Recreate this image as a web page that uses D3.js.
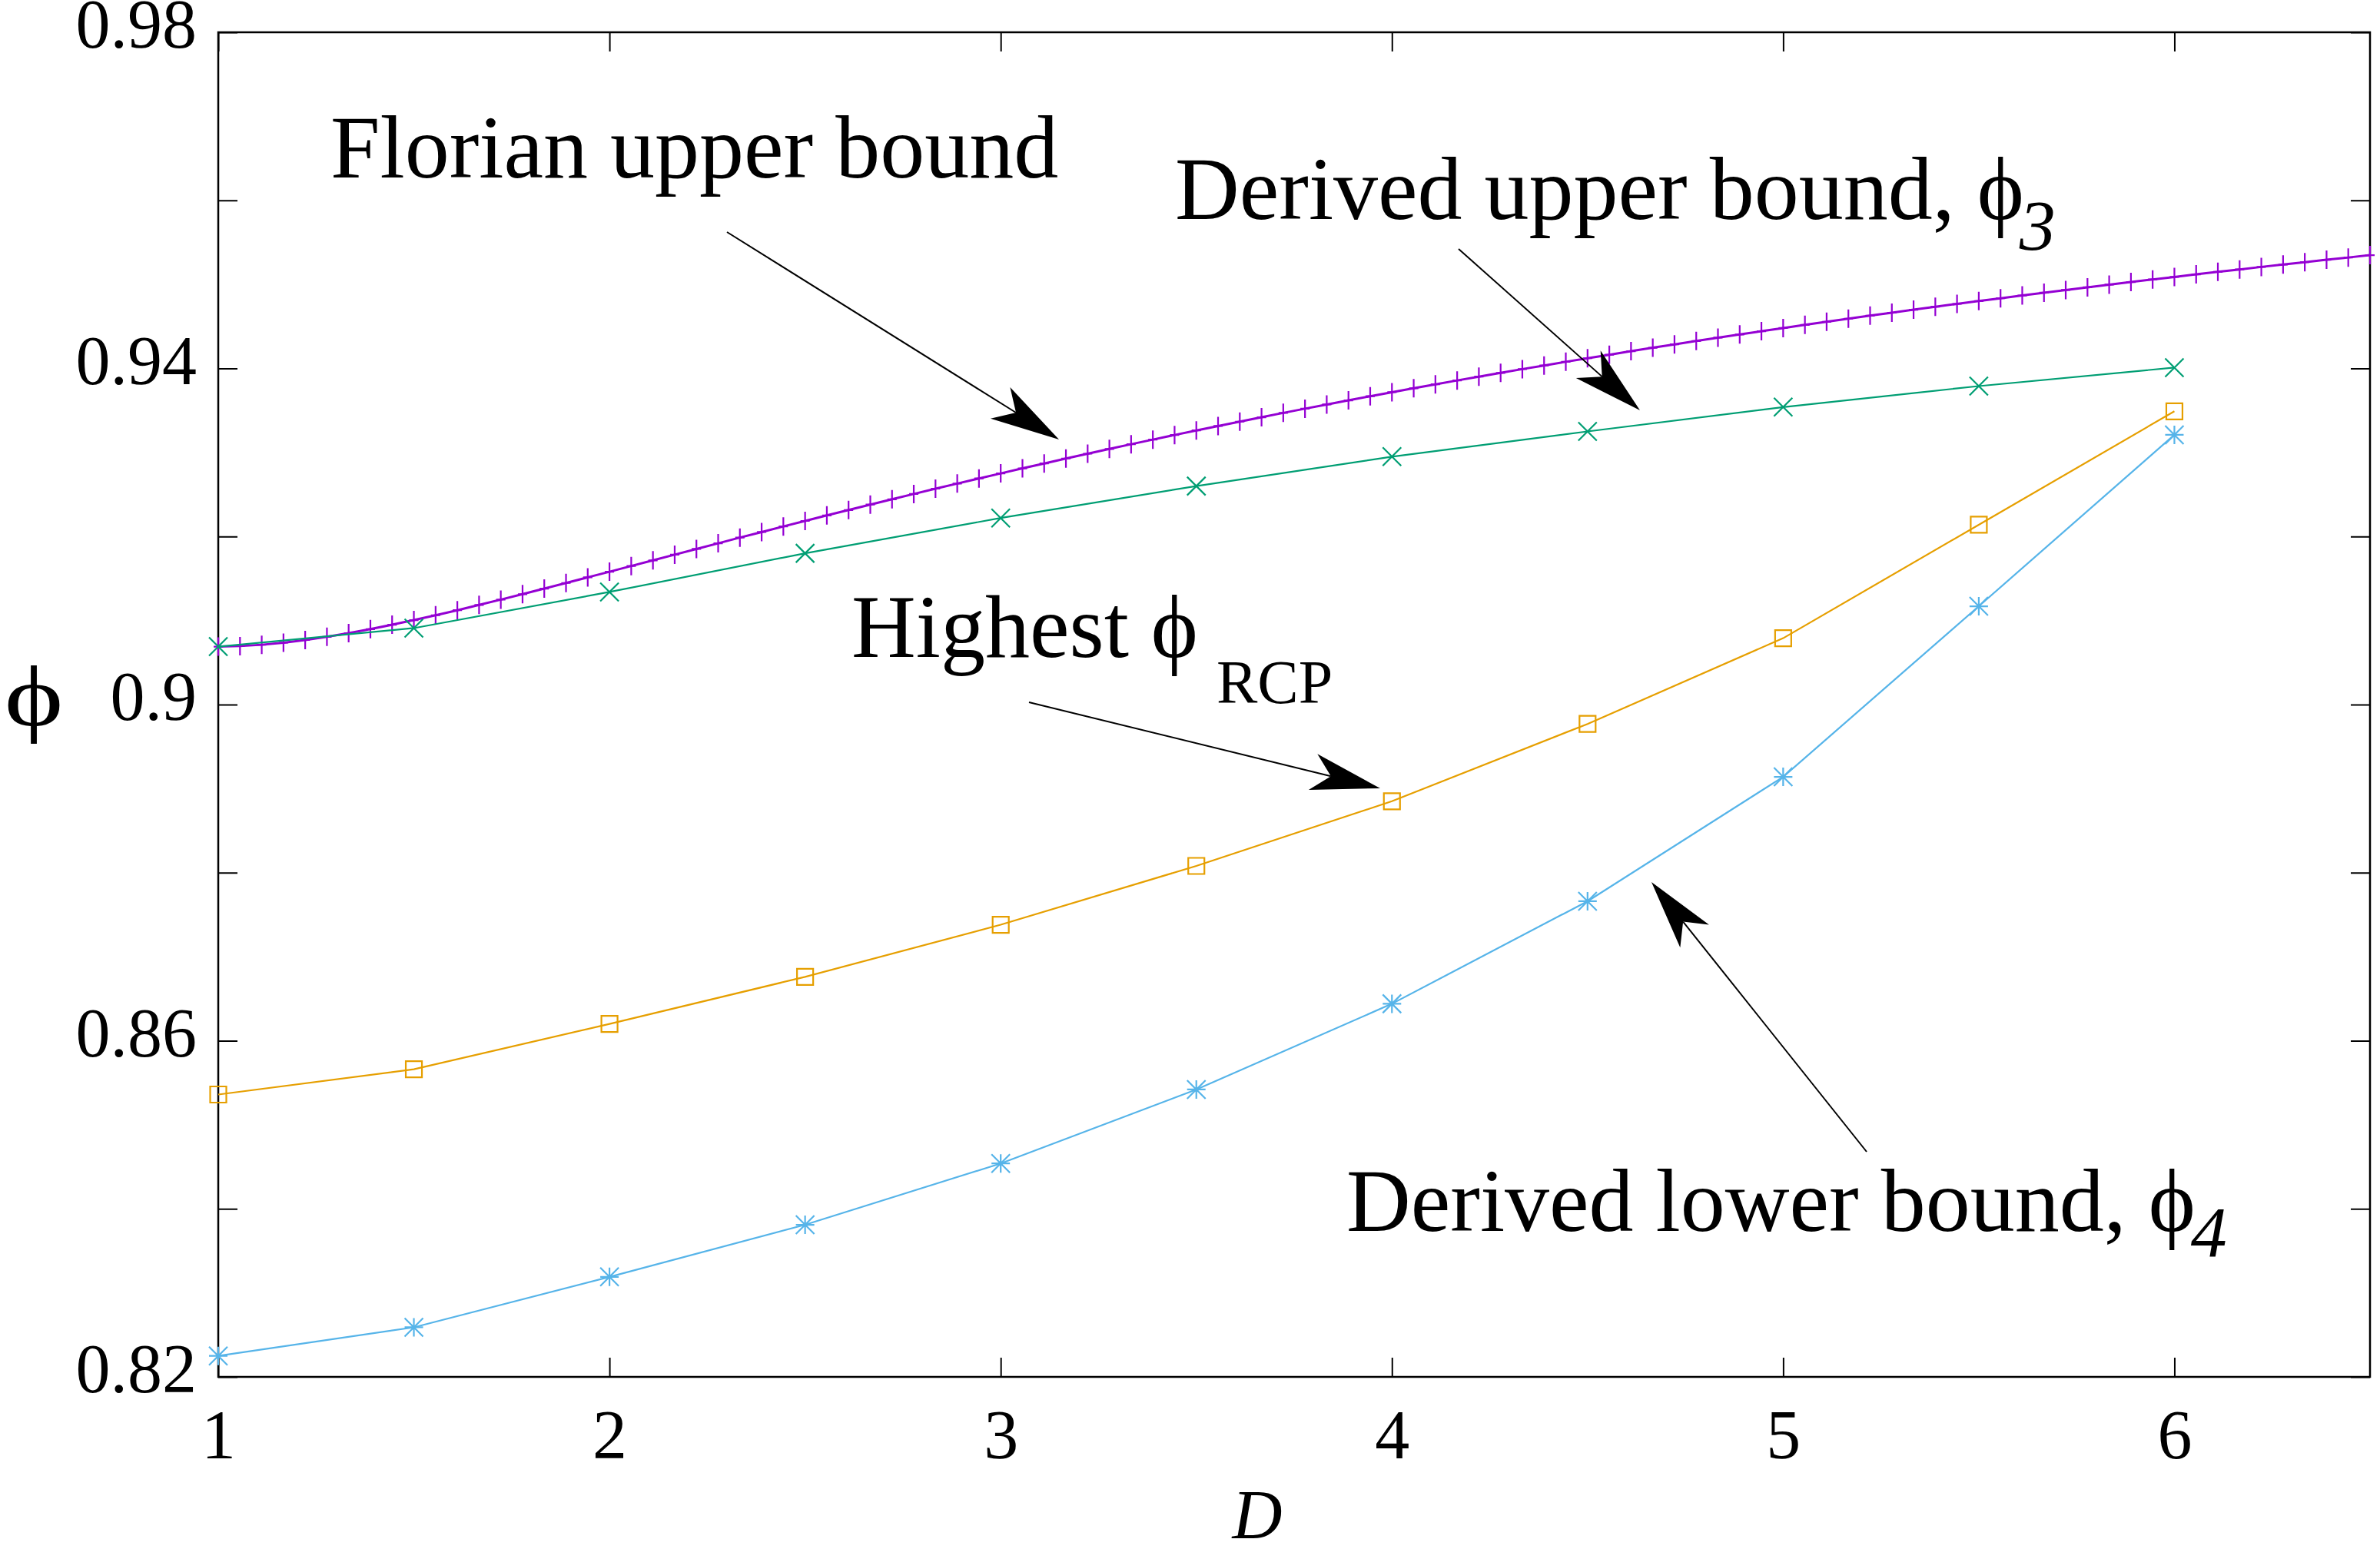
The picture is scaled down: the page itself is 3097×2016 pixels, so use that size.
<!DOCTYPE html>
<html>
<head>
<meta charset="utf-8">
<script src="https://cdn.jsdelivr.net/npm/d3@7"></script>
<style>
  body { margin: 0; background: #fff; }
  svg text { font-family: "Liberation Serif", "Times New Roman", "DejaVu Serif", serif; fill: #000; }
</style>
</head>
<body>
<svg id="chart" width="3097" height="2016"></svg>
<script>
// size ratio D, sampled every 0.5
const dValues = [1, 1.5, 2, 2.5, 3, 3.5, 4, 4.5, 5, 5.5, 6];
// derived upper bound phi_3
const phi3 = [0.9069, 0.9091, 0.9134, 0.9180, 0.9222, 0.9260, 0.9295, 0.9325, 0.9354, 0.9379, 0.9401];
// highest phi_RCP
const phiRCP = [0.8536, 0.8566, 0.8620, 0.8676, 0.8738, 0.8808, 0.8885, 0.8977, 0.9079, 0.9214, 0.9349];
// derived lower bound phi_4
const phi4 = [0.8225, 0.8259, 0.8319, 0.8381, 0.8454, 0.8542, 0.8644, 0.8766, 0.8914, 0.9117, 0.9321];

// Florian upper bound, dense sampling
const dFlorian = [
    1, 1.0556, 1.1111, 1.1667, 1.2222, 1.2778, 1.3333, 1.3889, 1.4444,
    1.5, 1.5556, 1.6111, 1.6667, 1.7222, 1.7778, 1.8333, 1.8889, 1.9444,
    2, 2.0556, 2.1111, 2.1667, 2.2222, 2.2778, 2.3333, 2.3889, 2.4444,
    2.5, 2.5556, 2.6111, 2.6667, 2.7222, 2.7778, 2.8333, 2.8889, 2.9444,
    3, 3.0556, 3.1111, 3.1667, 3.2222, 3.2778, 3.3333, 3.3889, 3.4444,
    3.5, 3.5556, 3.6111, 3.6667, 3.7222, 3.7778, 3.8333, 3.8889, 3.9444,
    4, 4.0556, 4.1111, 4.1667, 4.2222, 4.2778, 4.3333, 4.3889, 4.4444,
    4.5, 4.5556, 4.6111, 4.6667, 4.7222, 4.7778, 4.8333, 4.8889, 4.9444,
    5, 5.0556, 5.1111, 5.1667, 5.2222, 5.2778, 5.3333, 5.3889, 5.4444,
    5.5, 5.5556, 5.6111, 5.6667, 5.7222, 5.7778, 5.8333, 5.8889, 5.9444,
    6, 6.0556, 6.1111, 6.1667, 6.2222, 6.2778, 6.3333, 6.3889, 6.4444,
    6.5
];
const phiFlorian = [
    0.90690, 0.90696, 0.90712, 0.90736, 0.90768, 0.90806, 0.90850, 0.90898, 0.90950,
    0.91005, 0.91063, 0.91123, 0.91186, 0.91249, 0.91314, 0.91380, 0.91447, 0.91514,
    0.91581, 0.91649, 0.91716, 0.91784, 0.91852, 0.91919, 0.91987, 0.92053, 0.92120,
    0.92185, 0.92251, 0.92315, 0.92380, 0.92443, 0.92506, 0.92569, 0.92630, 0.92691,
    0.92751, 0.92811, 0.92869, 0.92928, 0.92985, 0.93042, 0.93098, 0.93153, 0.93208,
    0.93262, 0.93315, 0.93367, 0.93419, 0.93471, 0.93521, 0.93571, 0.93620, 0.93669,
    0.93717, 0.93764, 0.93811, 0.93857, 0.93902, 0.93947, 0.93992, 0.94035, 0.94079,
    0.94121, 0.94163, 0.94205, 0.94246, 0.94286, 0.94326, 0.94366, 0.94404, 0.94443,
    0.94481, 0.94518, 0.94555, 0.94592, 0.94628, 0.94663, 0.94699, 0.94734, 0.94768,
    0.94802, 0.94835, 0.94868, 0.94901, 0.94933, 0.94965, 0.94997, 0.95028, 0.95059,
    0.95089, 0.95119, 0.95149, 0.95178, 0.95208, 0.95236, 0.95265, 0.95293, 0.95320,
    0.95348
];

const xTicks = [1, 2, 3, 4, 5, 6];
const yTicks = [0.82, 0.84, 0.86, 0.88, 0.90, 0.92, 0.94, 0.96, 0.98];
const yLabelled = [0.82, 0.86, 0.90, 0.94, 0.98];

let svg = d3.select("#chart");
let margin = {top: 42, right: 13, bottom: 224, left: 284};
let width = +svg.attr("width") - margin.left - margin.right;
let height = +svg.attr("height") - margin.top - margin.bottom;

let x = d3.scaleLinear().domain([1, 6.5]).range([0, width]);
let y = d3.scaleLinear().domain([0.82, 0.98]).range([height, 0]);

let g = svg.append("g")
    .attr("transform", `translate(${margin.left},${margin.top})`);

const FONT = '"Liberation Serif", "Times New Roman", "DejaVu Serif", serif';
const TICK = 25;

function styleAxis(sel) {
    sel.select(".domain").remove();
    sel.selectAll(".tick line").attr("stroke", "#000").attr("stroke-width", 2);
    sel.selectAll(".tick text")
        .attr("font-family", FONT)
        .attr("font-size", 90)
        .attr("fill", "#000");
}

// bottom axis
g.append("g")
    .attr("transform", `translate(0,${height})`)
    .call(d3.axisBottom(x).tickValues(xTicks).tickSizeInner(-TICK).tickSizeOuter(0)
        .tickPadding(42).tickFormat(d3.format("d")))
    .call(styleAxis);

// top mirror ticks
g.append("g")
    .call(d3.axisTop(x).tickValues(xTicks).tickSizeInner(-TICK).tickSizeOuter(0).tickFormat(""))
    .call(styleAxis);

// left axis
g.append("g")
    .call(d3.axisLeft(y).tickValues(yTicks).tickSizeInner(-TICK).tickSizeOuter(0)
        .tickPadding(28)
        .tickFormat(d => yLabelled.some(v => Math.abs(v - d) < 1e-9) ? String(+d.toFixed(2)) : ""))
    .call(styleAxis)
    .call(a => a.selectAll(".tick text").attr("dy", "0.22em"));

// right mirror ticks
g.append("g")
    .attr("transform", `translate(${width},0)`)
    .call(d3.axisRight(y).tickValues(yTicks).tickSizeInner(-TICK).tickSizeOuter(0).tickFormat(""))
    .call(styleAxis);

// frame
g.append("rect")
    .attr("width", width)
    .attr("height", height)
    .attr("fill", "none")
    .attr("stroke", "#000")
    .attr("stroke-width", 2.5);

// axis labels
svg.append("text")
    .attr("x", 1636)
    .attr("y", 2002)
    .attr("text-anchor", "middle")
    .attr("font-size", 90)
    .attr("font-style", "italic")
    .text("D");

svg.append("text")
    .attr("transform", "translate(44,944) scale(1.3,1)")
    .attr("text-anchor", "middle")
    .attr("font-size", 112)
    .text("\u03D5");

// marker shapes
const markers = {
    plus: (cx, cy) => `M${cx - 6},${cy}L${cx + 6},${cy}M${cx},${cy - 12}L${cx},${cy + 12}`,
    cross: (cx, cy) => `M${cx - 12},${cy - 12}L${cx + 12},${cy + 12}M${cx - 12},${cy + 12}L${cx + 12},${cy - 12}`,
    square: (cx, cy) => `M${cx - 10.5},${cy - 10.5}h21v21h-21Z`,
    star: (cx, cy) => markers.cross(cx, cy) + `M${cx - 12},${cy}L${cx + 12},${cy}M${cx},${cy - 12}L${cx},${cy + 12}`,
};

let series = [
    {xs: dFlorian, ys: phiFlorian, color: "#9400d3", width: 3, marker: "plus"},
    {xs: dValues, ys: phi3, color: "#009e73", width: 2.2, marker: "cross"},
    {xs: dValues, ys: phiRCP, color: "#e69f00", width: 2.2, marker: "square"},
    {xs: dValues, ys: phi4, color: "#56b4e9", width: 2.2, marker: "star"},
];

let line = d3.line()
    .x(d => x(d[0]))
    .y(d => y(d[1]));

series.forEach(s => {
    let pts = d3.zip(s.xs, s.ys);
    let sg = g.append("g");
    sg.append("path")
        .datum(pts)
        .attr("fill", "none")
        .attr("stroke", s.color)
        .attr("stroke-width", s.width)
        .attr("d", line);
    sg.selectAll("path.mk")
        .data(pts)
        .join("path")
        .attr("class", "mk")
        .attr("fill", "none")
        .attr("stroke", s.color)
        .attr("stroke-width", 2.2)
        .attr("d", d => markers[s.marker](x(d[0]), y(d[1])));
});

// annotations
function arrow(tail, tip) {
    let dx = tip[0] - tail[0], dy = tip[1] - tail[1];
    let len = Math.hypot(dx, dy);
    let ux = dx / len, uy = dy / len;
    let nx = -uy, ny = ux;
    let L = 90, W = 24, N = 66;
    let bx = tip[0] - ux * L, by = tip[1] - uy * L;
    let notch = [tip[0] - ux * N, tip[1] - uy * N];
    svg.append("line")
        .attr("x1", tail[0]).attr("y1", tail[1])
        .attr("x2", notch[0]).attr("y2", notch[1])
        .attr("stroke", "#000")
        .attr("stroke-width", 2);
    svg.append("path")
        .attr("d", `M${tip[0]},${tip[1]}L${bx + nx * W},${by + ny * W}L${notch[0]},${notch[1]}L${bx - nx * W},${by - ny * W}Z`)
        .attr("fill", "#000");
}

arrow([946, 302], [1378, 572]);
arrow([1898, 324], [2134, 534]);
arrow([1339, 914], [1796, 1026]);
arrow([2429, 1499], [2149, 1148]);

svg.append("text")
    .attr("x", 430).attr("y", 231)
    .attr("font-size", 116)
    .text("Florian upper bound");

let t1 = svg.append("text")
    .attr("x", 1529).attr("y", 285)
    .attr("font-size", 116)
    .text("Derived upper bound, \u03D5");
t1.append("tspan")
    .attr("dy", 40).attr("dx", -6)
    .attr("font-size", 94)
    .attr("font-style", "italic")
    .text("3");

let t2 = svg.append("text")
    .attr("x", 1108).attr("y", 855)
    .attr("font-size", 116)
    .text("Highest \u03D5");
t2.append("tspan")
    .attr("dy", 60).attr("dx", 24)
    .attr("font-size", 80)
    .text("RCP");

let t3 = svg.append("text")
    .attr("x", 1752).attr("y", 1602)
    .attr("font-size", 116)
    .text("Derived lower bound, \u03D5");
t3.append("tspan")
    .attr("dy", 33).attr("dx", -6)
    .attr("font-size", 94)
    .attr("font-style", "italic")
    .text("4");
</script>
</body>
</html>
